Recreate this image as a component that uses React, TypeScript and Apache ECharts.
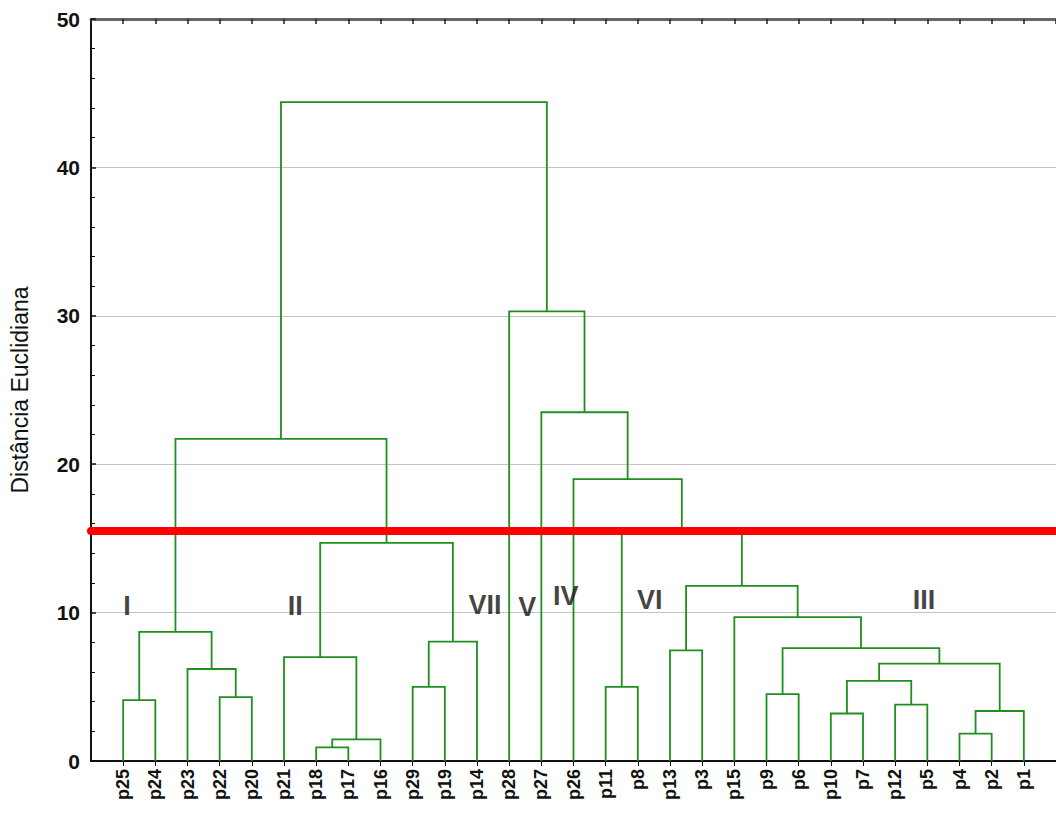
import React, { useEffect, useRef } from "react";
import * as echarts from "echarts";

// Leaves in dendrogram order (left to right)
const leafNames = [
  "p25", "p24", "p23", "p22", "p20", "p21", "p18", "p17", "p16", "p29",
  "p19", "p14", "p28", "p27", "p26", "p11", "p8", "p13", "p3", "p15",
  "p9", "p6", "p10", "p7", "p12", "p5", "p4", "p2", "p1",
];

// Linkage: merge i joins mergeLeft[i] and mergeRight[i] at mergeHeight[i]; result is "m" + i
const mergeLeft = [
  "p18", "m0", "p4", "p10", "m2", "p12", "p25", "p22", "p9", "p29",
  "p11", "m3", "p23", "m11", "p21", "p13", "m8", "m9", "m6", "p15",
  "m15", "m14", "m10", "p26", "m18", "p27", "p28", "m24",
];
const mergeRight = [
  "p17", "p16", "p2", "p7", "p1", "p5", "p24", "p20", "p6", "p19",
  "p8", "m5", "m7", "m4", "m1", "p3", "m13", "p14", "m12", "m16",
  "m19", "m17", "m20", "m22", "m21", "m23", "m25", "m26",
];
const mergeHeight = [
  0.92, 1.46, 1.84, 3.2, 3.37, 3.8, 4.1, 4.3, 4.5, 5.0,
  5.0, 5.4, 6.2, 6.56, 7.0, 7.45, 7.6, 8.05, 8.7, 9.7,
  11.8, 14.7, 15.45, 19.0, 21.7, 23.5, 30.3, 44.4,
];

const cutHeight = 15.5;

const groupLabels = ["I", "II", "VII", "V", "IV", "VI", "III"];
const groupX = [1.12, 6.35, 12.25, 13.56, 14.76, 17.37, 25.9];
const groupY = [10.45, 10.45, 10.5, 10.35, 11.15, 10.85, 10.85];

const yAxisName = "Distância Euclidiana";

function buildLinks() {
  const pos: Record<string, { x: number; h: number }> = {};
  leafNames.forEach((n, i) => {
    pos[n] = { x: i + 1, h: 0 };
  });
  const links: { coords: number[][] }[] = [];
  mergeHeight.forEach((h, i) => {
    const a = pos[mergeLeft[i]];
    const b = pos[mergeRight[i]];
    links.push({ coords: [[a.x, a.h], [a.x, h], [b.x, h], [b.x, b.h]] });
    pos["m" + i] = { x: (a.x + b.x) / 2, h };
  });
  return links;
}

const FONT = "'Liberation Sans', Arial, sans-serif";

export default function App() {
  const ref = useRef<HTMLDivElement>(null);

  useEffect(() => {
    if (!ref.current) return;
    const chart = echarts.init(ref.current, undefined, { renderer: "svg" });
    const option = {
      animation: false,
      backgroundColor: "#ffffff",
      grid: { left: 87, top: 19, width: 975, height: 742 },
      xAxis: [
        {
          type: "value",
          min: 0,
          max: 30,
          interval: 1,
          position: "bottom",
          axisLine: { show: true, onZero: false, lineStyle: { color: "#111", width: 2 } },
          axisTick: { show: true, length: 5, lineStyle: { color: "#111", width: 1 } },
          splitLine: { show: false },
          axisLabel: {
            rotate: 90,
            margin: 8,
            fontSize: 18,
            fontWeight: "bold",
            fontFamily: FONT,
            color: "#111",
            showMinLabel: false,
            showMaxLabel: false,
            formatter: (v: number) => leafNames[Math.round(v) - 1] ?? "",
          },
        },
        {
          type: "value",
          min: 0,
          max: 30,
          interval: 1,
          position: "top",
          axisLine: { show: true, onZero: false, lineStyle: { color: "#666", width: 3 } },
          axisTick: { show: true, inside: true, length: 5, lineStyle: { color: "#222", width: 1.5 } },
          splitLine: { show: false },
          axisLabel: { show: false },
        },
      ],
      yAxis: {
        type: "value",
        min: 0,
        max: 50,
        interval: 10,
        name: yAxisName,
        nameLocation: "middle",
        nameRotate: 90,
        nameGap: 60,
        nameTextStyle: { fontSize: 23, fontFamily: FONT, color: "#111" },
        axisLine: { show: true, lineStyle: { color: "#111", width: 2 } },
        axisTick: { show: true, inside: true, length: 5, lineStyle: { color: "#111", width: 1.5 } },
        minorTick: { show: true, splitNumber: 5, length: 4, lineStyle: { color: "#111", width: 1 } },
        splitLine: { show: true, lineStyle: { color: "#c4c4c4", width: 1.2 } },
        axisLabel: {
          fontSize: 21,
          fontWeight: "bold",
          fontFamily: FONT,
          color: "#111",
          margin: 11,
        },
      },
      series: [
        {
          type: "lines",
          coordinateSystem: "cartesian2d",
          polyline: true,
          silent: true,
          lineStyle: { color: "#1f8f1f", width: 1.8, opacity: 1 },
          data: buildLinks(),
          z: 3,
        },
        {
          type: "lines",
          coordinateSystem: "cartesian2d",
          polyline: false,
          silent: true,
          clip: false,
          lineStyle: { color: "#ff0000", width: 8, opacity: 1, cap: "round" },
          data: [{ coords: [[0, cutHeight], [30, cutHeight]] }],
          z: 4,
        },
        {
          type: "scatter",
          symbolSize: 0,
          silent: true,
          data: groupLabels.map((name, i) => ({ name, value: [groupX[i], groupY[i]] })),
          label: {
            show: true,
            position: "inside",
            formatter: (p: any) => p.name,
            fontSize: 27,
            fontWeight: "bold",
            fontFamily: FONT,
            color: "#111",
          },
          z: 5,
        },
      ],
    };
    chart.setOption(option as any);
    return () => chart.dispose();
  }, []);

  return (
    <div
      ref={ref}
      style={{ position: "fixed", left: 0, top: 0, width: 1056, height: 813, background: "#fff" }}
    />
  );
}
